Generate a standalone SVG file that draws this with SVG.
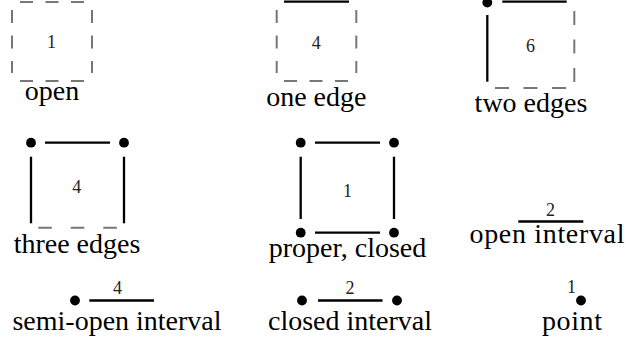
<svg xmlns="http://www.w3.org/2000/svg" width="626" height="339" viewBox="0 0 626 339">
<style>
.s{stroke:#000;stroke-width:2.3;fill:none}
.d{stroke:#777;stroke-width:2;fill:none;stroke-dasharray:13 12.5}
.d2{stroke:#777;stroke-width:2;fill:none;stroke-dasharray:14 14.5}
.d3{stroke:#777;stroke-width:2;fill:none;stroke-dasharray:13.5 19}
.dot{fill:#000}
.lbl{font-family:'Liberation Serif','DejaVu Serif',serif;font-size:28px;fill:#000;text-anchor:middle}
.num{font-family:'Liberation Serif','DejaVu Serif',serif;font-size:18px;fill:#222;text-anchor:middle}
</style>
<rect width="626" height="339" fill="#fff"/>
<g id="connectors">
  <line class="d" x1="20" y1="2" x2="84" y2="2"/>
  <line class="d" x1="20" y1="81" x2="84" y2="81"/>
  <line class="d" x1="12" y1="10" x2="12" y2="73"/>
  <line class="d" x1="92" y1="10" x2="92" y2="73"/>
  <line class="s" x1="284" y1="1.6" x2="349" y2="1.6"/>
  <line class="d" x1="284" y1="81" x2="349" y2="81"/>
  <line class="d" x1="276.7" y1="10" x2="276.7" y2="73"/>
  <line class="d" x1="356.3" y1="10" x2="356.3" y2="73"/>
  <line class="s" x1="502.3" y1="1.6" x2="566.7" y2="1.6"/>
  <line class="s" x1="487.3" y1="15" x2="487.3" y2="81.7"/>
  <line class="d2" x1="574.3" y1="11" x2="574.3" y2="82"/>
  <line class="d2" x1="495" y1="88" x2="566" y2="88"/>
  <line class="s" x1="45" y1="142.7" x2="110" y2="142.7"/>
  <line class="s" x1="31" y1="156.7" x2="31" y2="223.3"/>
  <line class="s" x1="124" y1="156.7" x2="124" y2="223.3"/>
  <line class="d3" x1="38.3" y1="227.7" x2="116.8" y2="227.7"/>
  <line class="s" x1="315" y1="142.7" x2="380" y2="142.7"/>
  <line class="s" x1="315" y1="232.7" x2="380" y2="232.7"/>
  <line class="s" x1="300.7" y1="156.7" x2="300.7" y2="219"/>
  <line class="s" x1="394" y1="156.7" x2="394" y2="219"/>
  <line class="s" x1="518.3" y1="221.5" x2="583.3" y2="221.5"/>
  <line class="s" x1="89.3" y1="300.5" x2="154" y2="300.5"/>
  <line class="s" x1="318" y1="300.5" x2="382.5" y2="300.5"/>
</g>
<g id="open">
  <text class="num" x="51.5" y="48">1</text>
  <text class="lbl" x="52" y="100">open</text>
</g>
<g id="one-edge">
  <text class="num" x="316.3" y="48.5">4</text>
  <text class="lbl" x="316.3" y="106">one edge</text>
</g>
<g id="two-edges">
  <circle class="dot" cx="487.3" cy="2.5" r="4.9"/>
  <text class="num" x="530.5" y="51.5">6</text>
  <text class="lbl" x="531" y="111.5">two edges</text>
</g>
<g id="three-edges">
  <circle class="dot" cx="31" cy="142.7" r="4.9"/>
  <circle class="dot" cx="124" cy="142.7" r="4.9"/>
  <text class="num" x="76.7" y="192.5">4</text>
  <text class="lbl" x="77" y="253">three edges</text>
</g>
<g id="proper-closed">
  <circle class="dot" cx="300.7" cy="142.7" r="4.9"/>
  <circle class="dot" cx="394" cy="142.7" r="4.9"/>
  <circle class="dot" cx="300.7" cy="232.7" r="4.9"/>
  <circle class="dot" cx="394" cy="232.7" r="4.9"/>
  <text class="num" x="347.5" y="196.5">1</text>
  <text class="lbl" x="347.5" y="257">proper, closed</text>
</g>
<g id="open-interval">
  <text class="num" x="550.5" y="215.5">2</text>
  <text class="lbl" x="547" y="243" textLength="155" lengthAdjust="spacing">open interval</text>
</g>
<g id="semi-open-interval">
  <circle class="dot" cx="75" cy="300.5" r="4.9"/>
  <text class="num" x="117.5" y="294">4</text>
  <text class="lbl" x="117" y="330">semi-open interval</text>
</g>
<g id="closed-interval">
  <circle class="dot" cx="302" cy="300.5" r="4.9"/>
  <circle class="dot" cx="397" cy="300.5" r="4.9"/>
  <text class="num" x="350" y="294">2</text>
  <text class="lbl" x="350" y="330">closed interval</text>
</g>
<g id="point">
  <circle class="dot" cx="581" cy="300.5" r="4.9"/>
  <text class="num" x="571.5" y="293">1</text>
  <text class="lbl" x="572" y="330" textLength="60" lengthAdjust="spacing">point</text>
</g>
</svg>
